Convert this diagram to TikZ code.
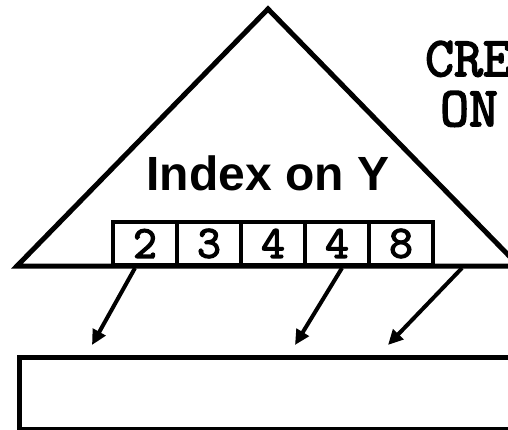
\documentclass[tikz,border=0pt]{standalone}
\usepackage{fontspec}
\newfontfamily\labelfont{Liberation Sans}
\newfontfamily\codefont{Latin Modern Mono}[FakeBold=3]
\usetikzlibrary{arrows.meta, positioning}

\begin{document}
\begin{tikzpicture}[
    x=1pt, y=-1pt,
    keybox/.style={draw, fill=white, line width=4pt, minimum width=64pt,
                   minimum height=43pt, inner sep=0pt,
                   font=\codefont\fontsize{46}{46}\selectfont},
    arr/.style={-{Triangle[length=15pt, width=14pt]}, line width=4pt},
    codetxt/.style={anchor=base west, inner sep=0pt,
                    font=\codefont\fontsize{56}{56}\selectfont}
]
\useasboundingbox (0,0) rectangle (508,430);

% Index tree
\coordinate (apex) at (268,9);
\coordinate (bl) at (17,266);
\coordinate (br) at (519,266);
\draw[line width=5pt, line join=miter, fill=white] (bl) -- (apex) -- (br) -- cycle;
\node[font=\labelfont\bfseries\fontsize{48}{48}\selectfont, anchor=base, inner sep=0pt]
    (idx) at (268,191) {Index on Y};

% Leaf keys
\foreach \v [count=\i] in {2,3,4,4,8}
    \node[keybox] (k\i) at (113+64*\i-32, 243.5) {\v};

% Statement
\node[codetxt] (cre) at (425,76) {CRE};
\node[codetxt] (on) at (440,126) {ON};

% Table
\node[draw, line width=5pt, minimum width=520pt, minimum height=72pt,
      anchor=north west, inner sep=0pt] (tbl) at (17,355) {};

% Pointers into the table
\coordinate (p1) at (135,268);
\coordinate (p2) at (342,268);
\coordinate (p3) at (462,268);
\coordinate (r1) at (92,345);
\coordinate (r2) at (295,345);
\coordinate (r3) at (388,345);
\draw[arr] (p1) -- (r1);
\draw[arr] (p2) -- (r2);
\draw[arr] (p3) -- (r3);

\end{tikzpicture}
\end{document}
